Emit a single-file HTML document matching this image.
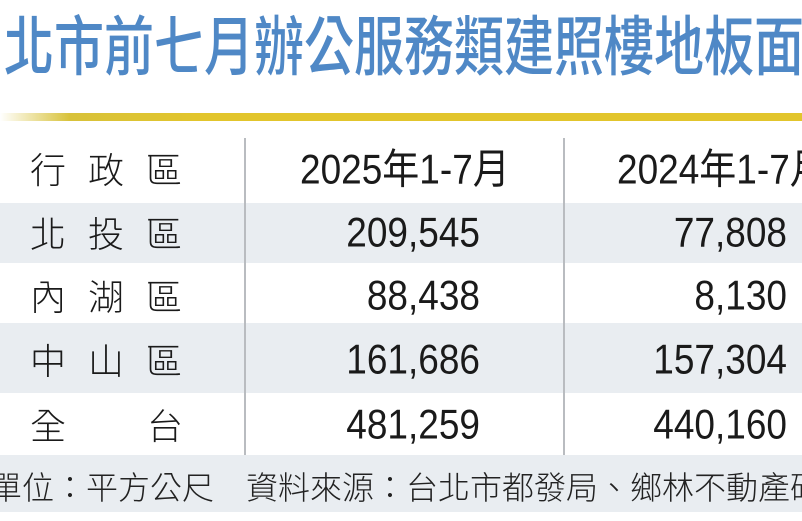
<!DOCTYPE html>
<html><head><meta charset="utf-8"><style>
html,body{margin:0;padding:0;}
body{width:802px;height:521px;overflow:hidden;background:#fff;position:relative;font-family:"Liberation Sans","Noto Sans CJK TC",sans-serif;}
.t{position:absolute;left:4px;top:6px;font-family:"Noto Sans CJK TC",sans-serif;font-weight:500;font-size:50px;line-height:56px;color:#4f88c6;white-space:nowrap;transform:scaleY(1.3);transform-origin:0 0;}
.y{position:absolute;left:0;top:113px;width:802px;height:8px;background:linear-gradient(90deg,#fff 0px,#d8c23a 70px,#e2c52c 200px,#e2c52c 100%);}
.r{position:absolute;left:0;width:802px;}
.g{background:#e9edf1;}
.v{position:absolute;top:138px;width:2px;height:317px;background:#b9bcc0;}
.c{position:absolute;font-size:37px;color:#1a1a1a;white-space:nowrap;line-height:40px;transform:scaleY(1.12);}
.l{font-family:"Noto Sans CJK TC",sans-serif;font-size:36px;font-weight:300;transform:none;}
.f{position:absolute;left:-10px;top:466px;font-family:"Noto Sans CJK TC",sans-serif;font-size:32px;font-weight:300;color:#222;white-space:nowrap;line-height:40px;}
</style></head><body>
<div class="t">北市前七月辦公服務類建照樓地板面積</div>
<div class="y"></div>
<div class="r g" style="top:203px;height:60px"></div>
<div class="r g" style="top:323px;height:70px"></div>
<div class="r g" style="top:455px;height:57px"></div>
<div class="v" style="left:244px"></div>
<div class="v" style="left:563px"></div>

<div class="c l" style="left:30px;top:148px;letter-spacing:22px">行政區</div>
<div class="c" style="left:300px;top:150px">2025年1-7月</div>
<div class="c" style="left:617px;top:150px">2024年1-7月</div>

<div class="c l" style="left:30px;top:212px;letter-spacing:22px">北投區</div>
<div class="c" style="right:322px;top:213px">209,545</div>
<div class="c" style="right:15px;top:213px">77,808</div>

<div class="c l" style="left:30px;top:275px;letter-spacing:22px">內湖區</div>
<div class="c" style="right:322px;top:276px">88,438</div>
<div class="c" style="right:15px;top:276px">8,130</div>

<div class="c l" style="left:30px;top:339px;letter-spacing:22px">中山區</div>
<div class="c" style="right:322px;top:340px">161,686</div>
<div class="c" style="right:15px;top:340px">157,304</div>

<div class="c l" style="left:30px;top:404px;">全<span style="display:inline-block;width:81px"></span>台</div>
<div class="c" style="right:322px;top:405px">481,259</div>
<div class="c" style="right:15px;top:405px">440,160</div>

<div class="f">單位：平方公尺　資料來源：台北市都發局、鄉林不動產研究室</div>
</body></html>
